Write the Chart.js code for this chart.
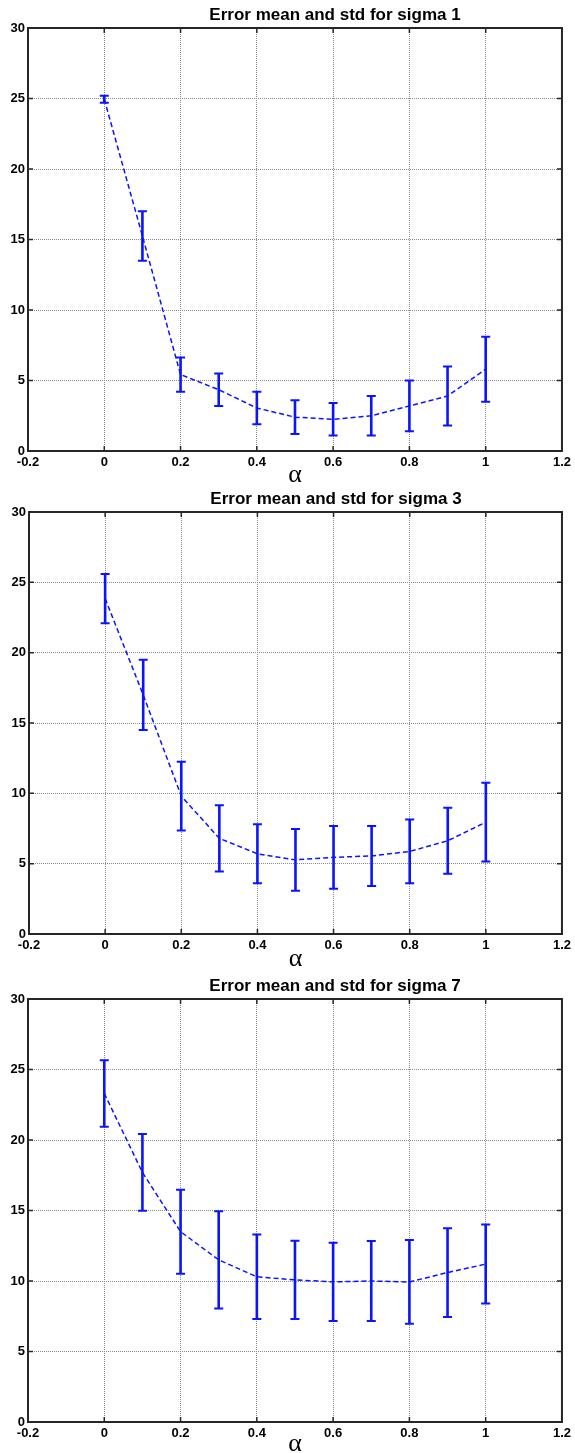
<!DOCTYPE html>
<html>
<head>
<meta charset="utf-8">
<script src="https://cdn.jsdelivr.net/npm/chart.js@4.4.0/dist/chart.umd.min.js"></script>
<style>
  html, body { margin: 0; padding: 0; background: #fff; overflow: hidden; }
  canvas { position: absolute; left: 0; }
</style>
</head>
<body>
<canvas id="c1" width="575" height="490" style="top:0px"></canvas>
<canvas id="c2" width="575" height="490" style="top:480px"></canvas>
<canvas id="c3" width="575" height="488" style="top:965px"></canvas>
<script>
// data
const alpha = [0, 0.1, 0.2, 0.3, 0.4, 0.5, 0.6, 0.7, 0.8, 0.9, 1.0];
const xTicks = [-0.2, 0, 0.2, 0.4, 0.6, 0.8, 1, 1.2];
const yTicks = [0, 5, 10, 15, 20, 25, 30];
const titles = [
    "Error mean and std for sigma 1",
    "Error mean and std for sigma 3",
    "Error mean and std for sigma 7"
];

const mean1 = [24.95, 15.25, 5.42, 4.35, 3.05, 2.4, 2.25, 2.5, 3.2, 3.9, 5.8];
const std1  = [0.25, 1.75, 1.22, 1.15, 1.15, 1.2, 1.15, 1.4, 1.8, 2.1, 2.3];

const mean2 = [23.85, 17.0, 9.8, 6.8, 5.7, 5.27, 5.45, 5.55, 5.87, 6.63, 7.95];
const std2  = [1.75, 2.5, 2.45, 2.35, 2.1, 2.19, 2.23, 2.13, 2.27, 2.35, 2.8];

const mean3 = [23.3, 17.7, 13.5, 11.5, 10.3, 10.08, 9.94, 10.0, 9.93, 10.6, 11.2];
const std3  = [2.36, 2.72, 2.98, 3.45, 3.0, 2.78, 2.78, 2.84, 2.97, 3.15, 2.8];

// layout of each panel (page pixels)
const panels = [
    { id: "c1", top: 0,   height: 490, plotTop: 28,  plotBottom: 451,  left: 28, alphaY: 474,  mean: mean1, std: std1 },
    { id: "c2", top: 480, height: 490, plotTop: 512, plotBottom: 934,  left: 29, alphaY: 958,  mean: mean2, std: std2 },
    { id: "c3", top: 965, height: 488, plotTop: 999, plotBottom: 1422, left: 28, alphaY: 1443, mean: mean3, std: std3 }
];

const BLUE = "#0a14ff";
const FRAME = "#262626";

// error bars with caps
function errorBarPlugin(mean, std) {
    return {
        id: "errorBars",
        afterDatasetsDraw(chart) {
            const { ctx, scales: { x, y } } = chart;
            ctx.save();
            ctx.strokeStyle = BLUE;
            for (let i = 0; i < mean.length; i++) {
                let px = x.getPixelForValue(alpha[i]);
                let hi = y.getPixelForValue(mean[i] + std[i]);
                let lo = y.getPixelForValue(mean[i] - std[i]);
                ctx.lineWidth = 2.6;
                ctx.beginPath();
                ctx.moveTo(px, hi);
                ctx.lineTo(px, lo);
                ctx.stroke();
                ctx.lineWidth = 2;
                ctx.beginPath();
                ctx.moveTo(px - 4.5, hi); ctx.lineTo(px + 4.5, hi);
                ctx.moveTo(px - 4.5, lo); ctx.lineTo(px + 4.5, lo);
                ctx.stroke();
            }
            ctx.restore();
        }
    };
}

// axes box, inward tick marks and the panel title
function framePlugin(title) {
    return {
        id: "frame",
        afterDraw(chart) {
            const { ctx, chartArea: a, scales: { x, y } } = chart;
            ctx.save();
            ctx.strokeStyle = FRAME;
            ctx.lineWidth = 1.5;
            ctx.beginPath();
            x.ticks.forEach(t => {
                let px = x.getPixelForValue(t.value);
                ctx.moveTo(px, a.bottom); ctx.lineTo(px, a.bottom - 5);
                ctx.moveTo(px, a.top); ctx.lineTo(px, a.top + 5);
            });
            y.ticks.forEach(t => {
                let py = y.getPixelForValue(t.value);
                ctx.moveTo(a.left, py); ctx.lineTo(a.left + 5, py);
                ctx.moveTo(a.right, py); ctx.lineTo(a.right - 5, py);
            });
            ctx.stroke();
            ctx.lineWidth = 2;
            ctx.strokeRect(a.left, a.top, a.right - a.left, a.bottom - a.top);

            ctx.fillStyle = "#000";
            ctx.font = "bold 17px 'Liberation Sans', Arial, sans-serif";
            ctx.textAlign = "center";
            ctx.textBaseline = "middle";
            ctx.fillText(title, a.left + 307, a.top - 13);
            ctx.restore();
        }
    };
}

function createPanel(p, title) {
    let ctx = document.getElementById(p.id).getContext("2d");
    let padTop = p.plotTop - p.top;
    let canvasBottom = p.top + p.height;
    let xAxisH = canvasBottom - p.plotBottom;
    let alphaSize = 26;
    let alphaPad = canvasBottom - (p.alphaY + 1) - alphaSize / 2;

    return new Chart(ctx, {
        type: "line",
        data: {
            datasets: [{
                data: alpha.map((a, i) => ({ x: a, y: p.mean[i] })),
                borderColor: BLUE,
                borderWidth: 1.5,
                borderDash: [5, 3],
                pointRadius: 0,
                fill: false,
                tension: 0
            }]
        },
        options: {
            responsive: false,
            animation: false,
            layout: { padding: { top: padTop, left: 0, right: 575 - 564, bottom: 0 } },
            plugins: {
                legend: { display: false },
                tooltip: { enabled: false },
                title: { display: false }
            },
            scales: {
                x: {
                    type: "linear",
                    min: -0.2,
                    max: 1.2,
                    afterBuildTicks: s => { s.ticks = xTicks.map(v => ({ value: v })); },
                    afterFit: s => { s.height = xAxisH; },
                    grid: { color: "#8a8a8a", lineWidth: 1, drawTicks: false },
                    border: { display: false, dash: [1, 1] },
                    ticks: {
                        autoSkip: false,
                        maxRotation: 0,
                        padding: 4,
                        color: "#000",
                        font: { family: "'Liberation Sans', Arial", size: 13, weight: "bold" },
                        callback: v => String(Number(v.toFixed(1)))
                    },
                    title: {
                        display: true,
                        text: "α",
                        color: "#000",
                        font: { family: "'Liberation Serif', 'Times New Roman', serif", size: alphaSize, lineHeight: 1 },
                        padding: { top: 0, bottom: alphaPad }
                    }
                },
                y: {
                    min: 0,
                    max: 30,
                    afterBuildTicks: s => { s.ticks = yTicks.map(v => ({ value: v })); },
                    afterFit: s => { s.width = p.left; },
                    grid: { color: "#8a8a8a", lineWidth: 1, drawTicks: false },
                    border: { display: false, dash: [1, 1] },
                    ticks: {
                        autoSkip: false,
                        padding: 3,
                        color: "#000",
                        font: { family: "'Liberation Sans', Arial", size: 13, weight: "bold" }
                    }
                }
            }
        },
        plugins: [errorBarPlugin(p.mean, p.std), framePlugin(title)]
    });
}

panels.forEach((p, i) => createPanel(p, titles[i]));
</script>
</body>
</html>
